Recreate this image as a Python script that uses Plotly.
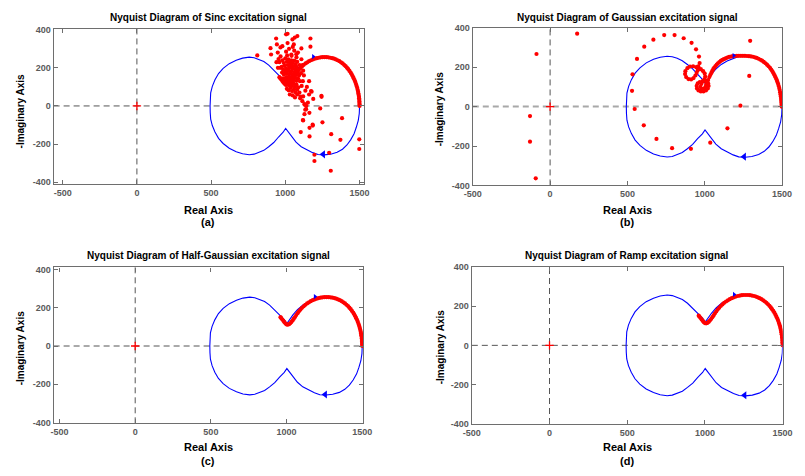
import plotly.graph_objects as go

# ---------------- data ----------------
x_ticks = [-500, 0, 500, 1000, 1500]
y_ticks = [-400, -200, 0, 200, 400]

titles = ["Nyquist Diagram of Sinc excitation signal",
          "Nyquist Diagram of Gaussian excitation signal",
          "Nyquist Diagram of Half-Gaussian excitation signal",
          "Nyquist Diagram of Ramp excitation signal"]
panel_tags = ["(a)", "(b)", "(c)", "(d)"]

# Blue Nyquist contour (system model)
nyq_x = [1500, 1498, 1491, 1478, 1463, 1440, 1415, 1385, 1349, 1305, 1261, 1220, 1184, 1145,
         1107, 1072, 1042, 1020, 1002, 985, 954, 922, 888, 855, 822, 790, 757, 712, 669, 622,
         581, 550, 526, 508, 497, 494, 493,
         494, 497, 508, 526, 550, 581, 622, 669, 712, 757, 790, 822, 855, 888, 922, 954, 985,
         1002, 1020, 1042, 1072, 1107, 1145, 1184, 1220, 1261, 1305, 1349, 1385, 1415, 1440,
         1463, 1478, 1491, 1498, 1500]
nyq_y = [0, 40, 77, 112, 146, 178, 205, 227, 243, 253, 257, 255, 245, 231,
         214, 190, 163, 138, 118, 138, 163, 192, 214, 233, 245, 253, 256, 251, 240, 222,
         197, 170, 137, 103, 69, 35, 0,
         -35, -69, -103, -137, -170, -197, -222, -240, -251, -256, -253, -245, -233, -214, -192, -163, -138,
         -118, -138, -163, -190, -214, -231, -245, -255, -257, -253, -243, -227, -205, -178,
         -146, -112, -77, -40, 0]

# direction arrows on the contour
arrow_up = (1188, 259)
arrow_down = (1255, -254)

# Measured response: smooth arc (used by Half-Gaussian, Ramp and Sinc)
arc_x = [1500, 1500, 1499, 1499, 1498, 1497, 1496, 1494, 1492, 1490, 1487, 1484, 1480, 1476,
         1471, 1466, 1460, 1454, 1447, 1440, 1432, 1424, 1415, 1406, 1396, 1386, 1375, 1364,
         1352, 1340, 1328, 1316, 1303, 1290, 1277, 1264, 1251, 1238, 1225, 1212, 1199, 1186,
         1173, 1160, 1148, 1136, 1124, 1113, 1102, 1092, 1082, 1073, 1064, 1056, 1048, 1040,
         1032, 1024, 1016, 1008, 1000, 993, 986, 979, 972, 965, 960]
arc_y = [0, 8, 16, 24, 32, 40, 48, 57, 66, 75, 85, 95, 105, 115,
         126, 136, 146, 156, 166, 175, 184, 193, 201, 209, 216, 223, 229, 235,
         240, 244, 248, 251, 253, 255, 256, 256, 256, 255, 253, 251, 248, 244,
         240, 235, 229, 223, 216, 208, 200, 191, 182, 172, 162, 152, 143, 134,
         126, 119, 114, 112, 113, 118, 125, 132, 139, 146, 151]

# Sinc: scattered cloud
sinc_x = [980, 990, 1000, 1010, 1020, 1030, 1040, 1050, 1060, 1070, 1080, 1095,
          975, 985, 995, 1005, 1015, 1025, 1035, 1045, 1055, 1065, 1075, 1085, 1100,
          978, 990, 1000, 1010, 1020, 1030, 1040, 1050, 1060, 1070, 1080, 1092, 1105,
          985, 995, 1005, 1015, 1025, 1035, 1045, 1055, 1065, 1075, 1085, 1098,
          995, 1005, 1015, 1025, 1035, 1045, 1055, 1065, 1075, 1088,
          1010, 1022, 1035, 1045, 1058, 1068, 1080, 1095,
          1030, 1050, 1065, 1080, 1100, 1115, 1130, 1120,
          960, 965, 968, 1012, 1040, 1075, 1108, 1115, 1120, 1125, 1118, 1110, 1005, 1025,
          1060, 1085, 1050, 1015,
          811, 900, 904, 938, 967, 1005, 1015, 1064, 1081, 1169, 1169, 1108, 943, 980, 1048,
          1057, 954, 949, 1074, 1042, 940, 950,
          1173, 1188, 1244, 1152, 1235, 1134, 1141, 1382, 1250, 1120, 1185, 1163, 1104, 1163,
          1309, 1371, 1498, 1498, 1295, 1196, 1196, 1306, 1129, 1140, 1118, 1184, 1160, 1145,
          1160, 1135, 1243, 1177, 1103, 1129, 1162]
sinc_y = [240, 225, 250, 232, 245, 228, 240, 225, 238, 220, 232, 215,
          205, 190, 210, 195, 215, 200, 212, 195, 208, 192, 205, 188, 198,
          175, 165, 180, 168, 185, 170, 182, 165, 178, 162, 175, 160, 172,
          145, 135, 150, 138, 155, 140, 152, 135, 148, 132, 145, 130,
          120, 110, 125, 108, 120, 105, 118, 100, 112, 98,
          90, 82, 95, 78, 88, 72, 85, 70,
          60, 55, 45, 60, 40, 25, 10, 50,
          230, 200, 260, 265, 270, 255, 245, 215, 185, 160, 130, 105, 285, 300,
          290, 280, 310, 330,
          265, 303, 270, 354, 307, 376, 379, 359, 367, 354, 311, 302, 323, 314, 349,
          323, 246, 280, 272, 263, 230, 200,
          78, 37, 48, 17, -13, -20, 0, -64, -86, -76, -103, -115, -137, -160,
          -148, -178, -175, -226, -246, -256, -289, -340, -43, -17, -74, -98, 130, 100,
          60, 80, 53, 75, 49, 7, -36]

# Gaussian: scattered points, spiral and arc
gauss_x = [175, -88, -130, -130, -93, 530, 533, 562, 547, 606, 688, 789, 911, 1036, 1147,
           1231, 1288, 1294,
           609, 668, 738, 805, 864, 915, 944, 963, 967, 958,
           945, 925, 905, 888, 875, 873, 880, 895, 912, 928, 940, 948, 955, 962,
           975, 990, 1000, 1003, 998,
           985, 968, 955, 948, 950, 960, 975, 992, 1008, 1020, 1025, 1022, 1015, 1005, 990,
           978, 972, 980, 995, 1005, 1010, 1015, 1022,
           1030, 1036, 1042, 1048, 1055, 1062, 1070, 1078, 1086, 1095, 1104, 1114, 1124, 1135,
           1146, 1158, 1170, 1182, 1195, 1208, 1221, 1234, 1247, 1260, 1273, 1286, 1299, 1312,
           1324, 1336, 1348, 1360, 1371, 1382, 1393, 1403, 1413, 1422, 1430, 1438, 1445, 1452,
           1458, 1464, 1469, 1474, 1478, 1482, 1485, 1488, 1490, 1492, 1494, 1495, 1496, 1497,
           1497]
gauss_y = [370, 267, -48, -178, -364, 80, 164, 242, -12, -95, -164, -211, -214, -183, -110,
           5, 156, 334,
           304, 340, 363, 363, 347, 324, 291, 254, 221, 205,
           200, 205, 203, 195, 180, 165, 150, 140, 138, 145, 158, 172, 185, 192,
           190, 180, 168, 152, 138,
           128, 125, 118, 105, 92, 82, 77, 77, 82, 92, 105, 118, 128, 132, 128,
           115, 100, 90, 92, 100, 112, 122, 135,
           150, 160, 170, 180, 190, 198, 206, 213, 220, 226, 232, 237, 241, 245,
           249, 252, 254, 256, 257, 258, 258, 258, 258, 258, 257, 256, 255, 253,
           250, 247, 243, 238, 233, 227, 220, 213, 205, 197, 188, 179, 169, 159,
           149, 139, 128, 117, 106, 95, 84, 73, 62, 51, 40, 30, 20, 10,
           0]

red_x = [sinc_x + arc_x, gauss_x, arc_x, arc_x]
red_y = [sinc_y + arc_y, gauss_y, arc_y, arc_y]

# ---------------- layout geometry (pixels of the 805x476 page) ----------------
W, H = 805, 476
boxes = [  # left, right, top, bottom
    (45.7, 363.3, 24.3, 183.3),
    (475.0, 791.7, 23.3, 184.3),
    (45.7, 362.7, 268.0, 427.3),
    (474.0, 792.3, 267.3, 428.0),
]
x_ranges = [[-561, 1528], [-500, 1500], [-539, 1506], [-500, 1500]]
y_ranges = [[-412, 405], [-400, 400], [-405, 412], [-400, 400]]

title_pos = [(204, 13), (633, 13), (204, 256), (633, 256)]
xlab_pos = [(204, 209), (633, 209), (204, 451), (633, 451)]
tag_pos = [(204, 222), (633, 222), (204, 466), (633, 466)]
ylab_pos = [(12, 108), (441, 106), (12, 350), (442, 349)]

FONT = "Liberation Sans, Arial, sans-serif"

def px(x):
    return x / W

def py(y):
    return 1 - y / H

fig = go.Figure()
annotations = []
shapes = []

for i in range(4):
    n = "" if i == 0 else str(i + 1)
    xa, ya = "x" + n, "y" + n
    l, r, t, b = boxes[i]

    # blue contour
    fig.add_trace(go.Scatter(x=nyq_x, y=nyq_y, mode="lines",
                             line=dict(color="#0000ff", width=1.1),
                             xaxis=xa, yaxis=ya, showlegend=False, hoverinfo="skip"))
    # red measured points
    fig.add_trace(go.Scatter(x=red_x[i], y=red_y[i], mode="markers",
                             marker=dict(color="#ff0000", size=4.2, line=dict(width=0)),
                             xaxis=xa, yaxis=ya, showlegend=False, hoverinfo="skip"))
    # arrows
    fig.add_trace(go.Scatter(x=[arrow_up[0]], y=[arrow_up[1]], mode="markers",
                             marker=dict(color="#0000ff", size=4.5, symbol="triangle-right"),
                             xaxis=xa, yaxis=ya, showlegend=False, hoverinfo="skip"))
    fig.add_trace(go.Scatter(x=[arrow_down[0]], y=[arrow_down[1]], mode="markers",
                             marker=dict(color="#0000ff", size=7, symbol="triangle-left"),
                             xaxis=xa, yaxis=ya, showlegend=False, hoverinfo="skip"))
    # critical point marker
    fig.add_trace(go.Scatter(x=[0], y=[0], mode="markers",
                             marker=dict(color="#ff0000", size=6, symbol="cross-thin",
                                         line=dict(color="#ff0000", width=1.3)),
                             xaxis=xa, yaxis=ya, showlegend=False, hoverinfo="skip"))

    # dashed zero lines
    hcol, hw = ("#a8a8a8", 2.0) if i == 1 else ("#555555", 1.0)
    shapes.append(dict(type="line", xref=xa + " domain", yref=ya, x0=0, x1=1, y0=0, y1=0,
                       line=dict(color=hcol, width=hw, dash="6px,4px"), layer="below"))
    shapes.append(dict(type="line", xref=xa, yref=ya + " domain", x0=0, x1=0, y0=0, y1=1,
                       line=dict(color="#555555", width=1.0, dash="6px,4px"), layer="below"))

    axis_common = dict(showgrid=False, zeroline=False, showline=True, mirror="ticks",
                       linecolor="#6e6e6e", linewidth=1.3, ticks="inside", ticklen=4,
                       tickcolor="#6e6e6e", tickwidth=1,
                       tickfont=dict(family=FONT, size=9, color="#5a5a5a", weight="bold"))
    fig.update_layout(**{
        ("xaxis" + n): dict(domain=[px(l), px(r)], range=x_ranges[i], anchor=ya,
                            tickmode="array", tickvals=x_ticks,
                            ticktext=[str(v) for v in x_ticks], **axis_common),
        ("yaxis" + n): dict(domain=[py(b), py(t)], range=y_ranges[i], anchor=xa,
                            tickmode="array", tickvals=y_ticks,
                            ticktext=[str(v) for v in y_ticks], **axis_common),
    })

    annotations.append(dict(text=titles[i], x=px(title_pos[i][0]), y=py(title_pos[i][1]),
                            xref="paper", yref="paper", showarrow=False,
                            xanchor="center", yanchor="middle",
                            font=dict(family=FONT, size=10, color="#000000", weight="bold")))
    annotations.append(dict(text="Real Axis", x=px(xlab_pos[i][0]), y=py(xlab_pos[i][1]),
                            xref="paper", yref="paper", showarrow=False,
                            xanchor="center", yanchor="middle",
                            font=dict(family=FONT, size=11, color="#000000", weight="bold")))
    annotations.append(dict(text=panel_tags[i], x=px(tag_pos[i][0]), y=py(tag_pos[i][1]),
                            xref="paper", yref="paper", showarrow=False,
                            xanchor="center", yanchor="middle",
                            font=dict(family=FONT, size=11, color="#000000", weight="bold")))
    annotations.append(dict(text="-Imaginary Axis", x=px(ylab_pos[i][0]), y=py(ylab_pos[i][1]),
                            xref="paper", yref="paper", showarrow=False, textangle=-90,
                            xanchor="center", yanchor="middle",
                            font=dict(family=FONT, size=10, color="#000000", weight="bold")))

fig.update_layout(width=W, height=H, margin=dict(l=0, r=0, t=0, b=0),
                  paper_bgcolor="white", plot_bgcolor="white",
                  annotations=annotations, shapes=shapes)

fig.write_html("out.html")
